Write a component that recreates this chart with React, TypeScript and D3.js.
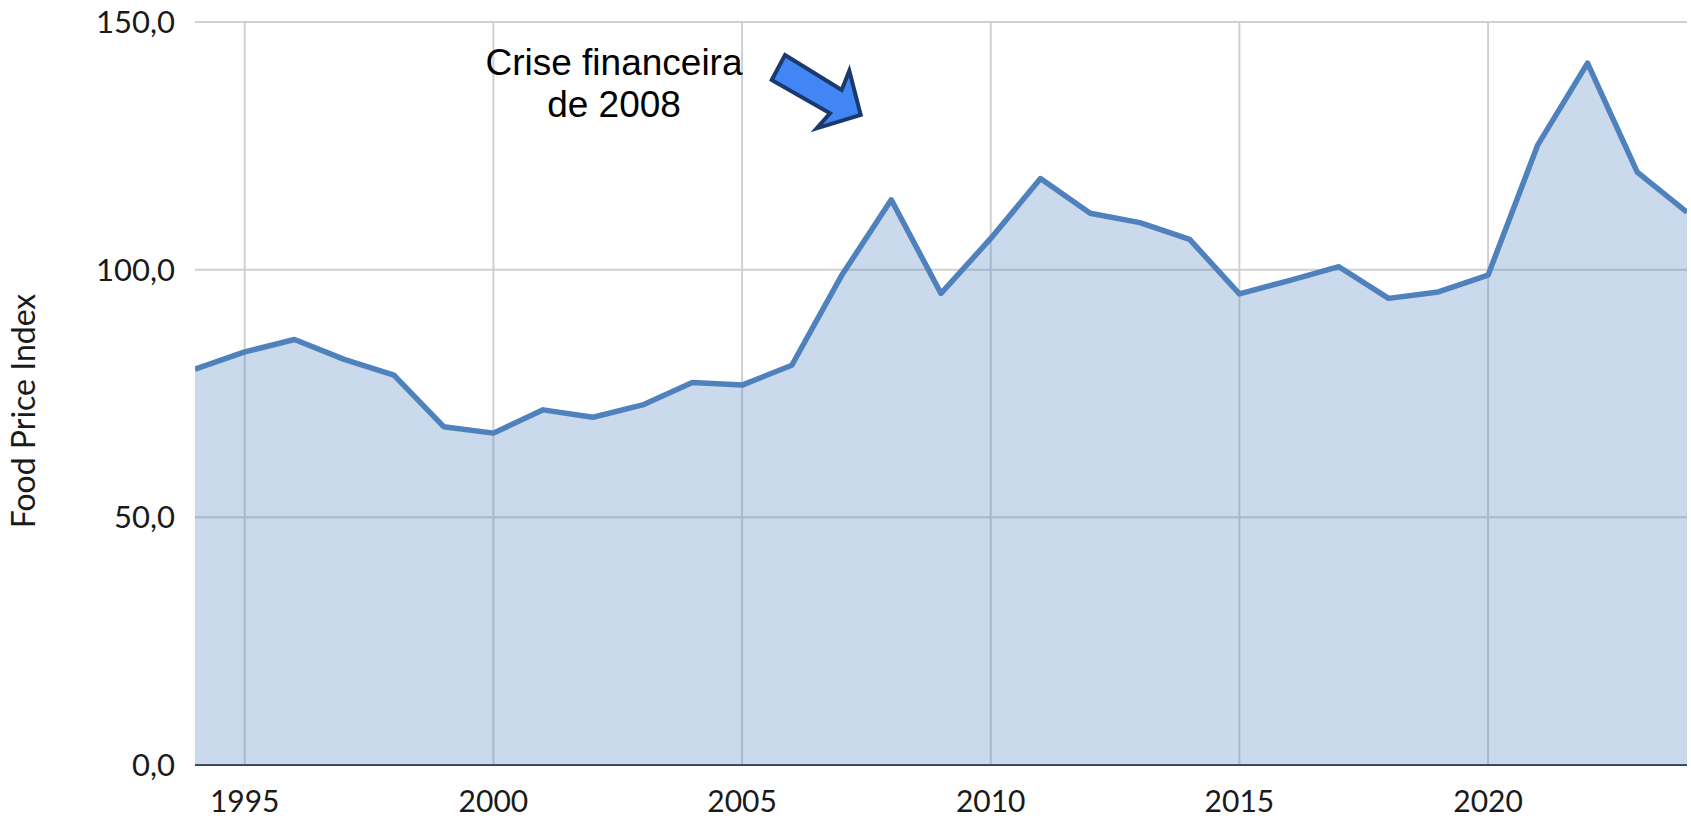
import React from "react";
import * as d3 from "d3";

const years = [1994, 1995, 1996, 1997, 1998, 1999, 2000, 2001, 2002, 2003, 2004, 2005, 2006, 2007, 2008, 2009, 2010, 2011, 2012, 2013, 2014, 2015, 2016, 2017, 2018, 2019, 2020, 2021, 2022, 2023, 2024];
const foodPriceIndex = [79.9, 83.4, 85.9, 81.9, 78.7, 68.3, 67.0, 71.7, 70.2, 72.7, 77.2, 76.7, 80.7, 98.8, 114.1, 95.2, 106.3, 118.4, 111.4, 109.5, 106.1, 95.1, 97.8, 100.6, 94.2, 95.5, 98.9, 125.2, 141.7, 119.7, 111.6];
const yTicks = [0, 50, 100, 150];
const xTicks = [1995, 2000, 2005, 2010, 2015, 2020];
const yTitle = "Food Price Index";
const annotationLines = ["Crise financeira", "de 2008"];

const W = 1691;
const H = 821;
const margin = { top: 22, right: 4, bottom: 56, left: 195 };

export default function App() {
  const x = d3.scaleLinear().domain([1994, 2024]).range([margin.left, W - margin.right]);
  const y = d3.scaleLinear().domain([0, 150]).range([H - margin.bottom, margin.top]);
  const data = years.map((yr, i) => ({ yr, v: foodPriceIndex[i] }));
  const area = d3.area<{ yr: number; v: number }>().x((d) => x(d.yr)).y0(y(0)).y1((d) => y(d.v))(data) || "";
  const line = d3.line<{ yr: number; v: number }>().x((d) => x(d.yr)).y((d) => y(d.v))(data) || "";
  const fmt = (v: number) => v.toFixed(1).replace(".", ",");
  const tickFont = "Lato, 'Open Sans', sans-serif";

  // arrow annotation (relative to its tail top-left point)
  const ax = 785, ay = 55;
  const arrowPts = [
    [0, 0], [56.7, 35], [64.3, 15.7], [75.7, 60], [31.7, 73.3], [45, 58.3], [-13.3, 25],
  ].map(([dx, dy]) => `${ax + dx},${ay + dy}`).join(" ");

  return (
    <svg width={W} height={H} style={{ position: "absolute", left: 0, top: 0, background: "#fff" }}>
      <defs>
        <clipPath id="plot">
          <rect x={margin.left} y={margin.top - 5} width={W - margin.left - margin.right} height={H - margin.top - margin.bottom + 5} />
        </clipPath>
      </defs>
      {yTicks.map((t) => (
        <line key={"gy" + t} x1={margin.left} x2={W - margin.right} y1={y(t)} y2={y(t)} stroke="#d0d0d0" strokeWidth={2} />
      ))}
      {xTicks.map((t) => (
        <line key={"gx" + t} x1={x(t)} x2={x(t)} y1={y(150)} y2={y(0)} stroke="#d0d0d0" strokeWidth={2} />
      ))}
      <line x1={margin.left} x2={W - margin.right} y1={y(0)} y2={y(0)} stroke="#3a3f48" strokeWidth={2} />
      <g clipPath="url(#plot)">
        <path d={area} fill="#4f81bd" fillOpacity={0.3} />
        <path d={line} fill="none" stroke="#4f81bd" strokeWidth={5.5} strokeLinejoin="round" />
      </g>
      {yTicks.map((t) => (
        <text key={"ty" + t} x={175} y={y(t)} dy="0.36em" textAnchor="end" fontFamily={tickFont} fontSize={31} fill="#1a1a1a">
          {fmt(t)}
        </text>
      ))}
      {xTicks.map((t) => (
        <text key={"tx" + t} x={x(t)} y={812} textAnchor="middle" fontFamily={tickFont} fontSize={30} fill="#1a1a1a">
          {t}
        </text>
      ))}
      <text transform="translate(35,411) rotate(-90)" textAnchor="middle" fontFamily={tickFont} fontSize={32} fill="#1a1a1a">
        {yTitle}
      </text>
      {annotationLines.map((s, i) => (
        <text key={s} x={614} y={75 + i * 42} textAnchor="middle" fontFamily="'Liberation Sans', Arial, sans-serif" fontSize={37} fill="#000">
          {s}
        </text>
      ))}
      <polygon points={arrowPts} fill="#4285f4" stroke="#1a3a6e" strokeWidth={4} strokeLinejoin="miter" />
    </svg>
  );
}
